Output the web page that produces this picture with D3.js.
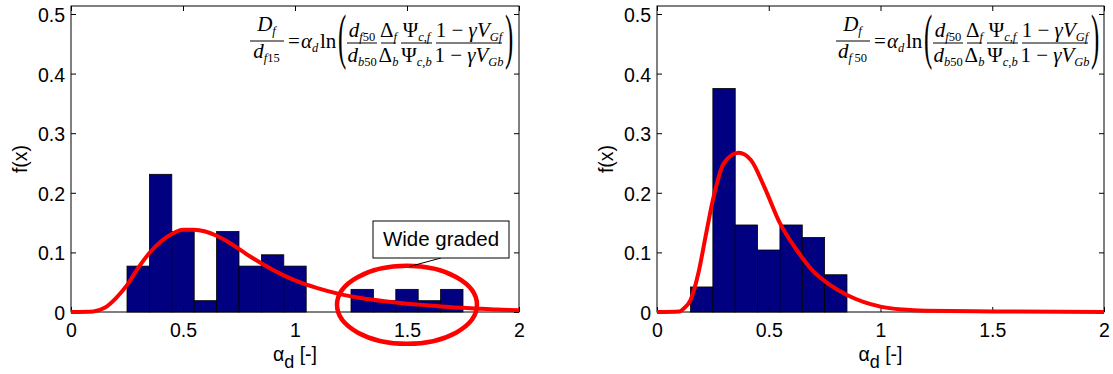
<!DOCTYPE html>
<html><head><meta charset="utf-8">
<script src="https://cdn.jsdelivr.net/npm/d3@7"></script>
<style>body{margin:0;background:#fff}svg{display:block}</style>
</head><body>
<svg id="c" width="1113" height="374"></svg>
<script>
// ---------- data ----------
const binWidth = 0.1;
const leftBinStarts = [0.25,0.35,0.45,0.55,0.65,0.75,0.85,0.95,1.05,1.15,1.25,1.35,1.45,1.55,1.65];
const leftFreq      = [0.077,0.231,0.135,0.019,0.135,0.077,0.096,0.077,0,0,0.038,0.019,0.038,0.019,0.038];
const rightBinStarts = [0.15,0.25,0.35,0.45,0.55,0.65,0.75];
const rightFreq      = [0.042,0.375,0.146,0.104,0.146,0.125,0.0625];

const leftFitX = [0,0.1,0.15,0.2,0.25,0.3,0.35,0.4,0.45,0.5,0.55,0.6,0.65,0.7,0.8,0.9,1.0,1.1,1.2,1.3,1.4,1.5,1.6,1.7,1.8,1.9,2.0];
const leftFitY = [0,0.001,0.007,0.023,0.045,0.074,0.099,0.118,0.131,0.138,0.138,0.135,0.128,0.118,0.093,0.071,0.053,0.040,0.030,0.023,0.018,0.014,0.011,0.008,0.006,0.004,0.003];
const rightFitX = [0,0.1,0.12,0.15,0.185,0.22,0.25,0.3,0.365,0.42,0.48,0.55,0.625,0.7,0.775,0.85,1.0,1.1,1.2,1.5,2.0];
const rightFitY = [0,0.001,0.006,0.02,0.065,0.132,0.188,0.250,0.267,0.255,0.210,0.149,0.104,0.068,0.045,0.0285,0.009,0.004,0.002,0.001,0];

const xTicks = [0,0.5,1,1.5,2];
const yTicks = [0,0.1,0.2,0.3,0.4,0.5];
const xLabelMain = "α", xLabelSub = "d", xLabelUnit = " [-]";
const yLabel = "f(x)";
const annotationText = "Wide graded";
const denomSubs = [["f","15"],["f","\u200950"]];

// ---------- layout ----------
const svg = d3.select("#c");
svg.append("rect").attr("width",1113).attr("height",374).attr("fill","#fff");
const plotTop = 6, plotBottom = 312;
const panels = [
  {x0:71, x1:519, starts:leftBinStarts, freq:leftFreq, fx:leftFitX, fy:leftFitY, denom:denomSubs[0], annot:true},
  {x0:657, x1:1104, starts:rightBinStarts, freq:rightFreq, fx:rightFitX, fy:rightFitY, denom:denomSubs[1], annot:false}
];
const SANS = '"Liberation Sans", Arial, Helvetica, sans-serif';
const SERIF = '"Liberation Serif", "Times New Roman", serif';

function rich(g, x, y, anchor, parts, size=21, subSize=12.5, subShift=4){
  const t = g.append("text").attr("x",x).attr("y",y).attr("text-anchor",anchor)
    .attr("font-family",SERIF).attr("fill","#000");
  let shift = 0;
  parts.forEach(p=>{
    const target = p[2] ? subShift : 0;
    const ts = t.append("tspan").text(p[0]).attr("font-size", p[2]?subSize:size)
      .attr("font-style", p[1] ? "italic" : "normal");
    if (target !== shift){ ts.attr("dy", target - shift); shift = target; }
  });
  return t;
}

panels.forEach(P=>{
  const x = d3.scaleLinear().domain([0,2]).range([P.x0,P.x1]);
  const y = d3.scaleLinear().domain([0,0.5134]).range([plotBottom,plotTop]);
  const g = svg.append("g");

  // bars
  g.selectAll("rect.bar").data(P.starts.map((s,i)=>({s, f:P.freq[i]})).filter(d=>d.f>0))
    .enter().append("rect")
    .attr("x",d=>x(d.s)).attr("width",d=>x(d.s+binWidth)-x(d.s))
    .attr("y",d=>y(d.f)).attr("height",d=>y(0)-y(d.f))
    .attr("fill","#000080").attr("stroke","#000").attr("stroke-width",0.8);

  // axes (ticks inward)
  const ax = (sel)=>{ sel.select(".domain").remove(); sel.selectAll("line").attr("stroke","#000"); };
  g.append("g").attr("transform",`translate(0,${plotBottom})`)
    .call(d3.axisBottom(x).tickValues(xTicks).tickFormat(d=>String(d)).tickSize(-5).tickSizeOuter(0).tickPadding(11))
    .call(ax).selectAll("text").attr("font-family",SANS).attr("font-size",19.5).attr("fill","#000");
  g.append("g").attr("transform",`translate(0,${plotTop})`)
    .call(d3.axisTop(x).tickValues(xTicks).tickFormat("").tickSize(-5).tickSizeOuter(0)).call(ax);
  g.append("g").attr("transform",`translate(${P.x0},0)`)
    .call(d3.axisLeft(y).tickValues(yTicks).tickFormat(d=>String(d)).tickSize(-5).tickSizeOuter(0).tickPadding(6))
    .call(ax).selectAll("text").attr("font-family",SANS).attr("font-size",19.5).attr("fill","#000").attr("dy","0.38em");
  g.append("g").attr("transform",`translate(${P.x1},0)`)
    .call(d3.axisRight(y).tickValues(yTicks).tickFormat("").tickSize(-5).tickSizeOuter(0)).call(ax);

  g.append("rect").attr("x",P.x0).attr("y",plotTop).attr("width",P.x1-P.x0).attr("height",plotBottom-plotTop)
    .attr("fill","none").attr("stroke","#000").attr("stroke-width",1);

  // fitted curve
  const line = d3.line().x(d=>x(d[0])).y(d=>y(d[1])).curve(d3.curveMonotoneX);
  g.append("path").datum(P.fx.map((v,i)=>[v,P.fy[i]])).attr("d",line)
    .attr("fill","none").attr("stroke","#ff0000").attr("stroke-width",4);

  // axis labels
  const xl = g.append("text").attr("x",(P.x0+P.x1)/2).attr("y",361).attr("text-anchor","middle")
    .attr("font-family",SANS).attr("font-size",19.5).attr("fill","#000");
  xl.append("tspan").text(xLabelMain);
  xl.append("tspan").text(xLabelSub).attr("dy",7).attr("font-size",18);
  xl.append("tspan").text(xLabelUnit).attr("dy",-7);
  g.append("text").attr("transform",`translate(${P.x0-44},${(plotTop+plotBottom)/2}) rotate(-90)`)
    .attr("text-anchor","middle").attr("font-family",SANS).attr("font-size",19.5).attr("fill","#000").text(yLabel);

  // formula
  const dx = P.x0 - 71;
  const f = g.append("g").attr("transform",`translate(${dx},0)`);
  const bar = (x1,x2,yy)=>f.append("line").attr("x1",x1).attr("x2",x2).attr("y1",yy).attr("y2",yy).attr("stroke","#000").attr("stroke-width",1);
  rich(f,266.5,31,"middle",[["D",1,0],["f",1,1]]);
  bar(250,284,41);
  rich(f,266.5,58,"middle",[["d",1,0],[P.denom[0],1,1],[P.denom[1],0,1]]);
  rich(f,288,48,"start",[["=",0,0]]);
  rich(f,301,48,"start",[["α",1,0],["d",1,1]]);
  rich(f,320,48,"start",[["ln",0,0]]);
  f.append("text").attr("transform","translate(338,57) scale(0.4,1)").attr("font-family",SERIF).attr("font-size",62).text("(");
  rich(f,362,37,"middle",[["d",1,0],["f",1,1],["50",0,1]]);
  bar(347,377,43);
  rich(f,362,62,"middle",[["d",1,0],["b",1,1],["50",0,1]]);
  rich(f,388.5,37,"middle",[["Δ",0,0],["f",1,1]]);
  bar(381,396,43);
  rich(f,416.5,37,"middle",[["Ψ",0,0],["c",1,1],[",",0,1],["f",1,1]]);
  bar(401,432,43);
  rich(f,388.5,62,"middle",[["Δ",0,0],["b",1,1]]);
  rich(f,416.5,62,"middle",[["Ψ",0,0],["c",1,1],[",",0,1],["b",1,1]]);
  rich(f,469,37,"middle",[["1 − ",0,0],["γ",1,0],["V",1,0],["Gf",1,1]]);
  bar(436,502,43);
  rich(f,469,62,"middle",[["1 − ",0,0],["γ",1,0],["V",1,0],["Gb",1,1]]);
  f.append("text").attr("transform","translate(505,57) scale(0.4,1)").attr("font-family",SERIF).attr("font-size",62).text(")");

  // annotation
  if (P.annot){
    const cx = x(1.5), cy = y(0.012);
    g.append("ellipse").attr("cx",cx).attr("cy",cy).attr("rx",70).attr("ry",39)
      .attr("fill","none").attr("stroke","#ff0000").attr("stroke-width",4.5);
    g.append("line").attr("x1",441).attr("y1",258).attr("x2",cx+3).attr("y2",cy-38.5)
      .attr("stroke","#000").attr("stroke-width",1);
    g.append("rect").attr("x",373).attr("y",221).attr("width",136).attr("height",37)
      .attr("fill","#fff").attr("stroke","#000").attr("stroke-width",1);
    g.append("text").attr("x",441).attr("y",246).attr("text-anchor","middle")
      .attr("font-family",SANS).attr("font-size",20.5).attr("fill","#000").text(annotationText);
  }
});
</script>
</body></html>
